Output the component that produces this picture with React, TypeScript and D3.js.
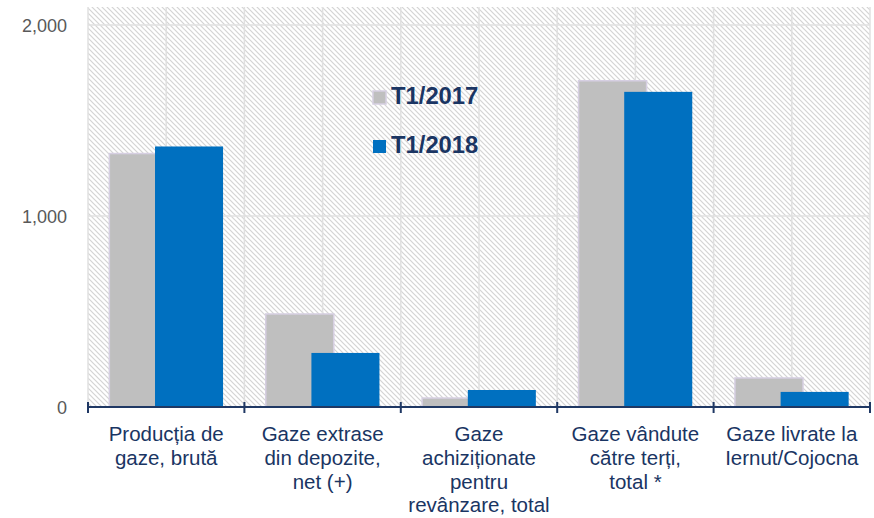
import React, { useEffect, useRef } from 'react';
import * as d3 from 'd3';

// categories (each label split into its lines)
const categories = [
  ['Producția de', 'gaze, brută'],
  ['Gaze extrase', 'din depozite,', 'net (+)'],
  ['Gaze', 'achiziționate', 'pentru', 'revânzare, total'],
  ['Gaze vândute', 'către terți,', 'total *'],
  ['Gaze livrate la', 'Iernut/Cojocna'],
];
const seriesNames = ['T1/2017', 'T1/2018'];
const values2017 = [1327, 487, 47, 1708, 152];
const values2018 = [1364, 283, 89, 1650, 79];
const yTicks = [0, 1000, 2000];

const W = 874;
const H = 518;

const App = () => {
  const chartRef = useRef<SVGSVGElement | null>(null);

  useEffect(() => {
    if (!chartRef.current) return;
    const svg = d3.select(chartRef.current);
    svg.selectAll('*').remove();

    const margin = { top: 7, right: 4, bottom: 111, left: 88 };
    const plotRight = W - margin.right;
    const plotBottom = H - margin.bottom;

    const keys = categories.map((c) => c.join(' '));
    const x = d3.scaleBand().domain(keys).range([margin.left, plotRight]).padding(0);
    const y = d3.scaleLinear().domain([0, 2000]).range([plotBottom, 25]);
    const bw = x.bandwidth();

    // hatch pattern for plot background
    const defs = svg.append('defs');
    const pat = defs
      .append('pattern')
      .attr('id', 'hatch')
      .attr('patternUnits', 'userSpaceOnUse')
      .attr('width', 5)
      .attr('height', 5);
    pat.append('rect').attr('width', 5).attr('height', 5).attr('fill', '#ffffff');
    pat
      .append('path')
      .attr('d', 'M-1,-1 L6,6 M-1,4 L1,6 M4,-1 L6,1')
      .attr('stroke', '#d4d4d4')
      .attr('stroke-width', 1.2);

    svg
      .append('rect')
      .attr('x', margin.left)
      .attr('y', margin.top)
      .attr('width', plotRight - margin.left)
      .attr('height', plotBottom - margin.top)
      .attr('fill', 'url(#hatch)');

    // vertical gridlines at category edges and centres
    const vLines: number[] = [];
    keys.forEach((k) => {
      vLines.push(x(k)!);
      vLines.push(x(k)! + bw / 2);
    });
    vLines.push(plotRight);
    svg
      .append('g')
      .selectAll('line')
      .data(vLines)
      .enter()
      .append('line')
      .attr('x1', (d) => d)
      .attr('x2', (d) => d)
      .attr('y1', margin.top)
      .attr('y2', plotBottom)
      .attr('stroke', '#e0e0e0')
      .attr('stroke-width', 1.5);

    // horizontal gridlines
    svg
      .append('g')
      .selectAll('line')
      .data(yTicks.filter((t) => t > 0))
      .enter()
      .append('line')
      .attr('x1', margin.left)
      .attr('x2', plotRight)
      .attr('y1', (d) => y(d))
      .attr('y2', (d) => y(d))
      .attr('stroke', '#e0e0e0')
      .attr('stroke-width', 1.5);

    // y tick labels
    svg
      .append('g')
      .selectAll('text')
      .data(yTicks)
      .enter()
      .append('text')
      .attr('x', 67)
      .attr('y', (d) => y(d) + 1)
      .attr('dy', '0.36em')
      .attr('text-anchor', 'end')
      .style('font-family', 'Liberation Sans, Arial, sans-serif')
      .style('font-size', '18px')
      .style('fill', '#595959')
      .text((d) => d3.format(',')(d));

    // bars
    const barW = bw * 0.435;
    const off0 = bw * 0.1365;
    const off1 = off0 + bw * 0.292;
    svg
      .append('g')
      .selectAll('rect')
      .data(values2017)
      .enter()
      .append('rect')
      .attr('x', (d, i) => x(keys[i])! + off0)
      .attr('y', (d) => y(d))
      .attr('width', barW)
      .attr('height', (d) => plotBottom - y(d))
      .attr('fill', '#bfbfbf')
      .attr('stroke', '#d6cfe2')
      .attr('stroke-width', 1.5);
    svg
      .append('g')
      .selectAll('rect')
      .data(values2018)
      .enter()
      .append('rect')
      .attr('x', (d, i) => x(keys[i])! + off1)
      .attr('y', (d) => y(d))
      .attr('width', barW)
      .attr('height', (d) => plotBottom - y(d))
      .attr('fill', '#0070c0');

    // x axis line with crossing ticks
    const axisColor = '#1f3864';
    svg
      .append('line')
      .attr('x1', margin.left)
      .attr('x2', plotRight)
      .attr('y1', plotBottom)
      .attr('y2', plotBottom)
      .attr('stroke', axisColor)
      .attr('stroke-width', 2);
    const tickXs = keys.map((k) => x(k)!).concat([plotRight]);
    svg
      .append('g')
      .selectAll('line')
      .data(tickXs)
      .enter()
      .append('line')
      .attr('x1', (d) => d)
      .attr('x2', (d) => d)
      .attr('y1', plotBottom - 5)
      .attr('y2', plotBottom + 6)
      .attr('stroke', axisColor)
      .attr('stroke-width', 2);

    // category labels
    const labels = svg
      .append('g')
      .selectAll('text')
      .data(categories)
      .enter()
      .append('text')
      .attr('x', (d, i) => x(keys[i])! + bw / 2)
      .attr('y', 441)
      .attr('text-anchor', 'middle')
      .style('font-family', 'Liberation Sans, Arial, sans-serif')
      .style('font-size', '20.5px')
      .style('fill', '#1a3563');
    labels
      .selectAll('tspan')
      .data((d) => d)
      .enter()
      .append('tspan')
      .attr('x', function () {
        return (this as any).parentNode.getAttribute('x');
      })
      .attr('dy', (d, i) => (i === 0 ? 0 : 23.8))
      .text((d) => d);

    // legend
    const legendColors = ['#bfbfbf', '#0070c0'];
    const legend = svg
      .append('g')
      .selectAll('g')
      .data(seriesNames)
      .enter()
      .append('g')
      .attr('transform', (d, i) => `translate(373,${104 + i * 49})`);
    legend
      .append('rect')
      .attr('x', 0)
      .attr('y', -13)
      .attr('width', 13)
      .attr('height', 13)
      .attr('fill', (d, i) => legendColors[i])
      .attr('stroke', (d, i) => (i === 0 ? '#d6cfe2' : 'none'))
      .attr('stroke-width', 1.5);
    legend
      .append('text')
      .attr('x', 18)
      .attr('y', 0)
      .style('font-family', 'Liberation Sans, Arial, sans-serif')
      .style('font-size', '23.8px')
      .style('font-weight', 'bold')
      .style('fill', '#1a3563')
      .text((d) => d);
  }, []);

  return (
    <svg
      ref={chartRef}
      width={W}
      height={H}
      style={{ position: 'absolute', left: 0, top: 0, background: '#ffffff' }}
    />
  );
};

export default App;
